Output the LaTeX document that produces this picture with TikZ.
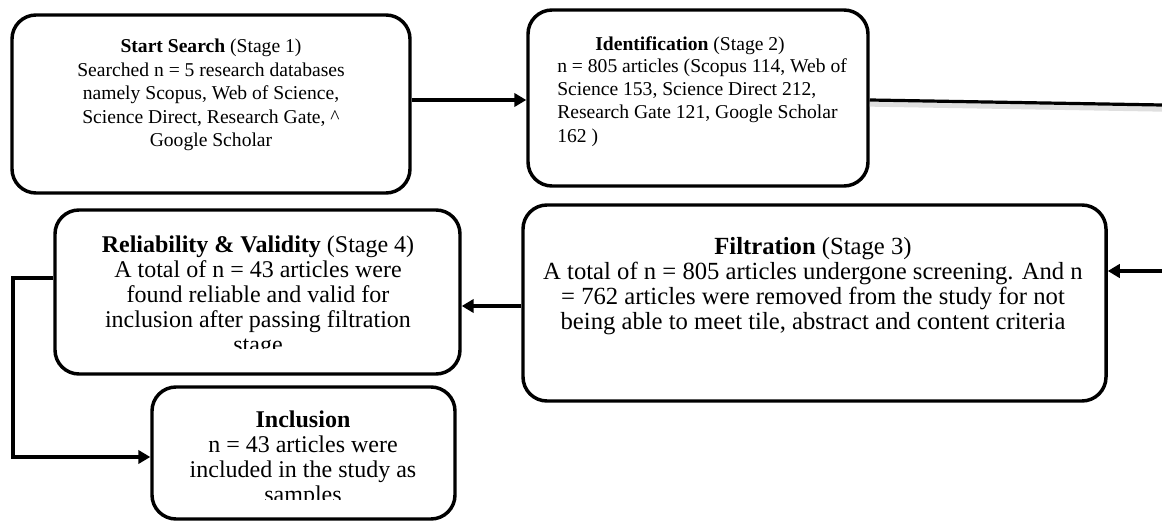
\documentclass[tikz,border=0pt]{standalone}
\usepackage{fontspec}
\setmainfont{Liberation Serif}
\usetikzlibrary{arrows.meta}
\begin{document}
\begin{tikzpicture}[x=0.75pt,y=-0.75pt,
  box/.style={draw, line width=2.6pt, rounded corners=18pt, inner sep=0pt, fill=white},
  txt/.style={align=center, font=\fontsize{14.7}{17.6}\selectfont, inner sep=0pt},
  txtl/.style={align=left, font=\fontsize{14.7}{17.6}\selectfont, inner sep=0pt},
  txtb/.style={align=center, font=\fontsize{18}{18.7}\selectfont, inner sep=0pt},
  conn/.style={line width=2.4pt, -{Triangle[length=9pt,width=10pt]}},
  plain/.style={line width=2.4pt},
  shadowline/.style={line width=4pt, black!25, opacity=0.5}]
\useasboundingbox (0,0) rectangle (1162,523);

% boxes
\node[box, minimum width=298.5pt, minimum height=133.5pt] (b1) at (211,104) {};
\node[box, minimum width=255pt, minimum height=132pt] (b2) at (698,98) {};
\node[box, minimum width=437.25pt, minimum height=147pt] (b3) at (814.5,303) {};
\node[box, minimum width=303.75pt, minimum height=123pt] (b4) at (257.5,292) {};
\node[box, minimum width=227.25pt, minimum height=99pt] (b5) at (303.5,453) {};

% texts
\node[txt] (t1) at (211,95) {\textbf{Start Search} (Stage 1)\\Searched n = 5 research databases\\namely Scopus, Web of Science,\\Science Direct, Research Gate, \textasciicircum\\Google Scholar};
\node[txt] (t2a) at (690,46) {\textbf{Identification} (Stage 2)};
\node[txtl, anchor=north west] (t2b) at (557,58) {n = 805 articles (Scopus 114, Web of\\Science 153, Science Direct 212,\\Research Gate 121, Google Scholar\\162 )};
\node[txtb, font=\fontsize{18.5}{18.7}\selectfont] (t3) at (813,286) {\textbf{Filtration} (Stage 3)\\A total of n = 805 articles undergone screening. And n\\= 762 articles were removed from the study for not\\being able to meet tile, abstract and content criteria};
\begin{scope}
\clip (60,215) rectangle (455,349);
\node[txtb] (t4) at (258,297) {\textbf{Reliability \& Validity} (Stage 4)\\A total of n = 43 articles were\\found reliable and valid for\\inclusion after passing filtration\\stage};
\end{scope}
\begin{scope}
\clip (157,392) rectangle (450,499);
\node[txtb] (t5) at (303,459) {\textbf{Inclusion}\\n = 43 articles were\\included in the study as\\samples};
\end{scope}

% helper coordinates
\coordinate (y100) at (0,100);
\coordinate (eR1) at (1162,105);
\coordinate (eR2) at (1162,271);
\coordinate (y306) at (0,306);
\coordinate (y278) at (0,278);
\coordinate (y457) at (0,457);
\coordinate (xL) at (13,0);

% connectors
\draw[conn] (b1.east |- y100) -- (b2.west |- y100);
\draw[shadowline] ([yshift=-3pt]b2.east |- y100) -- ([yshift=-3pt]eR1);
\draw[plain] (b2.east |- y100) -- (eR1);
\draw[conn] (eR2) -- (b3.east |- eR2);
\draw[conn] (b3.west |- y306) -- (b4.east |- y306);
\draw[conn] (b4.west |- y278) -- (xL |- y278) -- (xL |- y457) -- (b5.west |- y457);
\end{tikzpicture}
\end{document}
